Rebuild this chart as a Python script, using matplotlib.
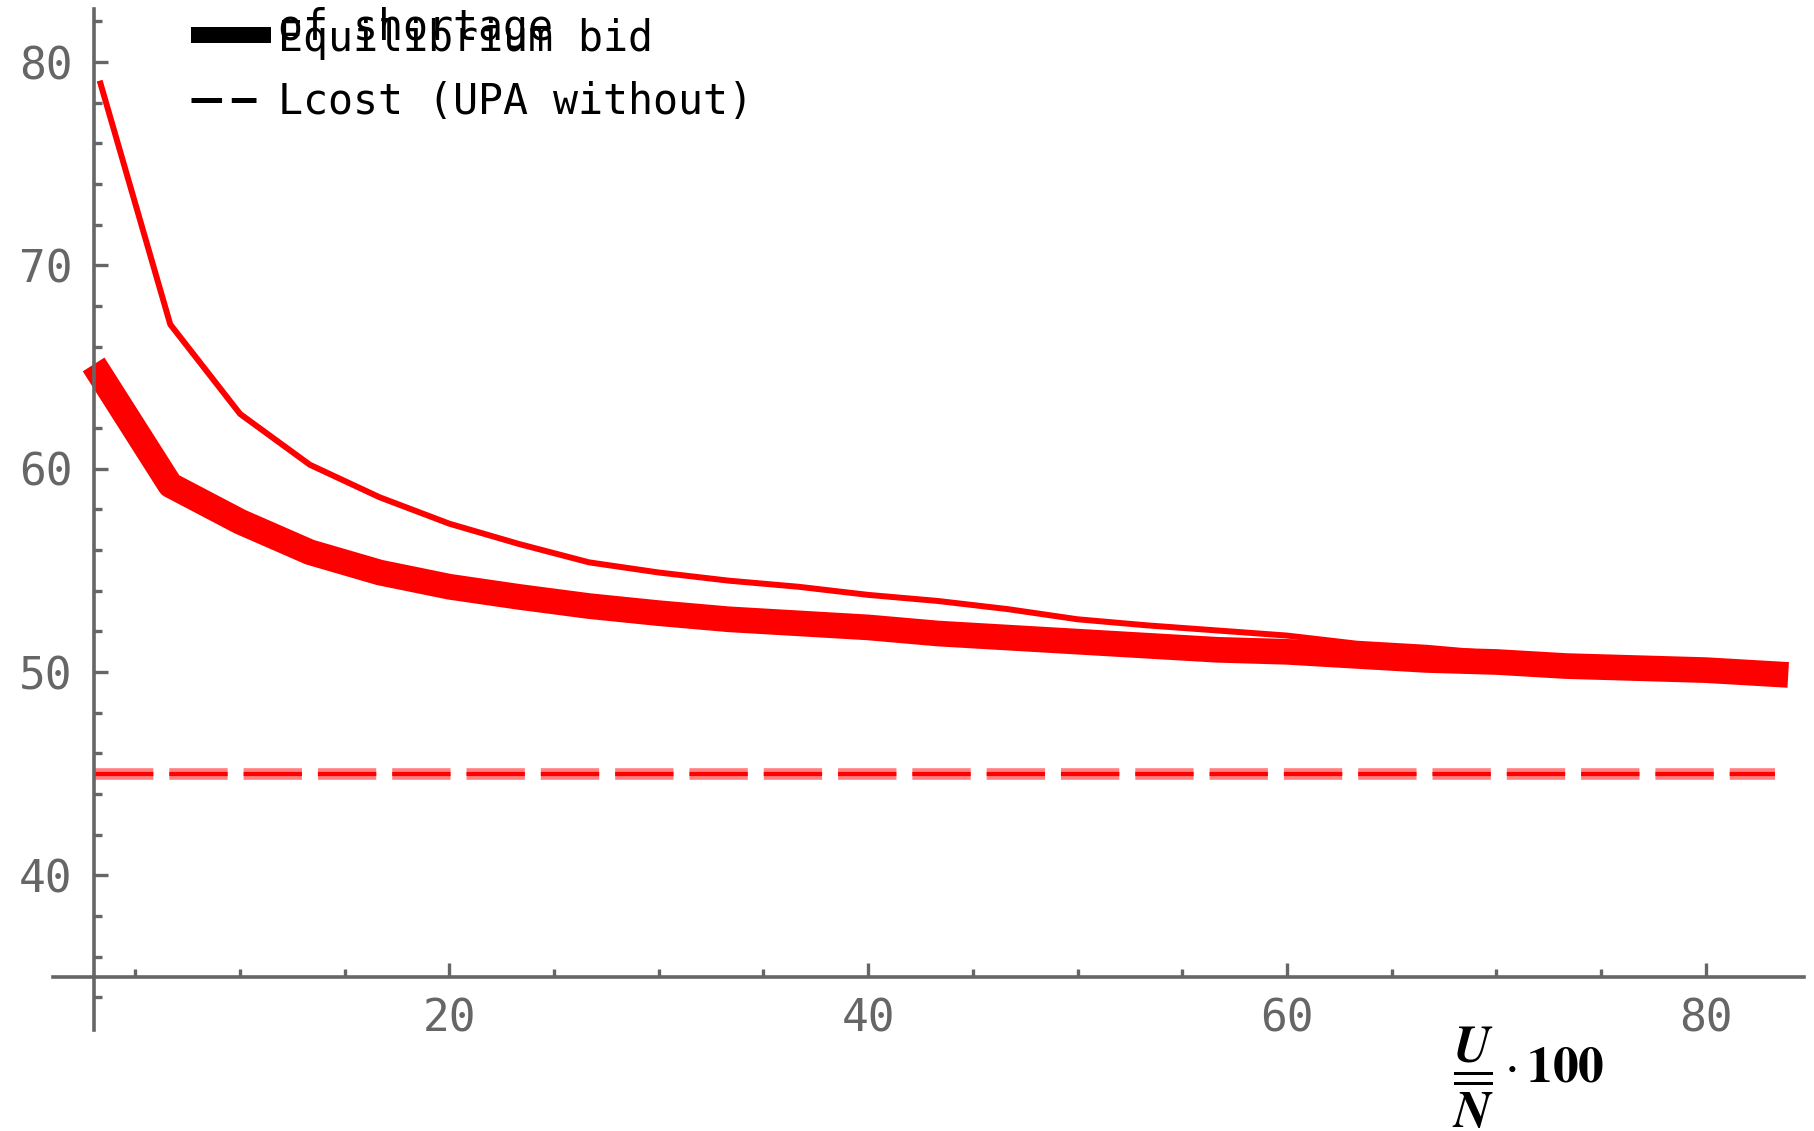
import numpy as np
import matplotlib.pyplot as plt

# share of shortage U/N * 100
share = np.arange(1, 26) * 100 / 30

# equilibrium bid, upper (thin) and main (thick) curves
bid_upper = [78.95, 67.1, 62.7, 60.2, 58.6, 57.3, 56.3, 55.4, 54.9, 54.5,
             54.2, 53.8, 53.5, 53.1, 52.6, 52.3, 52.05, 51.8, 51.4, 51.2,
             50.9, 50.7, 50.5, 50.2, 50.1]
bid_main = [64.6, 59.2, 57.4, 55.9, 54.9, 54.2, 53.7, 53.25, 52.9, 52.6,
            52.4, 52.2, 51.9, 51.7, 51.5, 51.3, 51.1, 51.0, 50.8, 50.6,
            50.5, 50.3, 50.2, 50.1, 49.9]

# Lcost (UPA without)
lcost = 45.0

W, H = 1814, 1131
plt.rcParams['lines.scale_dashes'] = False
fig = plt.figure(figsize=(W / 100, H / 100), dpi=100)
ax = fig.add_axes([52.7 / W, 1 - 1030 / H, (1804 - 52.7) / W, (1030 - 9.3) / H])

red = '#ff0000'
ax.plot(share, bid_main, color=red, lw=18.5, solid_capstyle='projecting',
        solid_joinstyle='round')
ax.plot(share, bid_upper, color=red, lw=4.3, solid_capstyle='projecting')
lc = [lcost] * 2
ends = [share[0] - 0.25, share[-1]]
ax.plot(ends, lc, color='#ff8080', lw=8.4, dashes=(42, 11.5), dash_capstyle='butt')
ax.plot(ends, lc, color=red, lw=3, dashes=(42, 11.5), dash_capstyle='butt')

ax.set_xlim(1.05, 84.7)
ax.set_ylim(32.4, 82.6)

gray = '#666666'
for s in ['top', 'right']:
    ax.spines[s].set_visible(False)
ax.spines['left'].set_position(('data', 3))
ax.spines['bottom'].set_position(('data', 35))
for s in ['left', 'bottom']:
    ax.spines[s].set_color(gray)
    ax.spines[s].set_linewidth(2.6)

ax.set_xticks([20, 40, 60, 80])
ax.set_xticks(np.arange(5, 85, 5), minor=True)
ax.set_yticks([40, 50, 60, 70, 80])
ax.set_yticks(np.arange(34, 83, 2), minor=True)
ax.tick_params(which='both', direction='in', color=gray, width=2.4,
               labelcolor=gray, labelsize=32)
ax.tick_params(which='major', length=10, pad=15)
ax.tick_params(which='minor', length=6)
for lab in ax.get_xticklabels() + ax.get_yticklabels():
    lab.set_family('DejaVu Sans Mono')

# legend, drawn in pixel positions at the top left
def px(x, y):
    return x / W, 1 - y / H

fig.add_artist(plt.Line2D(*zip(px(191, 35), px(271, 35)), color='black', lw=11.5,
                          solid_capstyle='butt'))
fig.add_artist(plt.Line2D(*zip(px(191, 100), px(256, 100)), color='black', lw=3.6,
                          dashes=(22, 7), dash_capstyle='butt'))
fig.text(*px(278, 40), 'of shortage', family='DejaVu Sans Mono', fontsize=30,
         va='baseline', ha='left')
fig.text(*px(278, 51), 'Equilibrium bid', family='DejaVu Sans Mono', fontsize=30,
         va='baseline', ha='left')
fig.text(*px(278, 114), 'Lcost (UPA without)', family='DejaVu Sans Mono', fontsize=30,
         va='baseline', ha='left')

plt.rcParams['mathtext.fontset'] = 'stix'
fig.text(*px(1452, 1078), r'$\dfrac{\mathbfit{U}}{\overline{\mathbfit{N}}}\cdot\mathbf{100}$',
         fontsize=37, va='center', ha='left')

fig.savefig('out.png', dpi=100)
